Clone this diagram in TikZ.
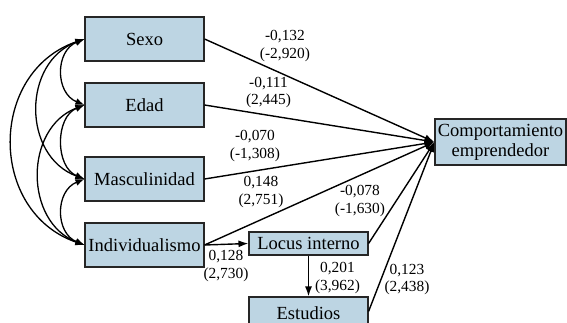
\documentclass[tikz,border=0pt]{standalone}
\usepackage{fontspec}
\setmainfont{Liberation Serif}
\usetikzlibrary{arrows.meta}
\definecolor{boxfill}{HTML}{BDD5E3}
\tikzset{
  vbox/.style={draw=black!85, line width=1.1pt, fill=boxfill, inner sep=0pt, minimum width=119pt, minimum height=44pt, font=\fontsize{18.5}{20}\selectfont},
  lbl/.style={align=center, inner sep=0pt, font=\fontsize{15.4}{17.5}\selectfont},
  pth/.style={line width=1.4pt, -{Latex[length=10pt,width=7pt]}},
  cov/.style={line width=1.3pt, {Latex[length=9pt,width=7pt]}-{Latex[length=9pt,width=7pt]}}
}
\begin{document}
\begin{tikzpicture}[x=1pt,y=-1pt]
\useasboundingbox (0,0) rectangle (567,323);
\node[vbox] (sexo) at (144.5,39) {Sexo};
\node[vbox] (edad) at (144.5,105) {Edad};
\node[vbox] (masc) at (144.5,179) {Masculinidad};
\node[vbox] (indiv) at (144.5,245) {Individualismo};
\node[vbox, minimum width=131pt, minimum height=46pt, align=center] (comp) at (500.5,142) {Comportamiento\\emprendedor};
\node[vbox, minimum height=23pt] (locus) at (308.5,243.5) {Locus interno};
\node[vbox, minimum height=38pt, text depth=5pt] (estud) at (308.5,316) {Estudios};
\coordinate (estudout) at ([yshift=-15pt]estud.north east);
% covariances
\draw[cov] (sexo.west) .. controls (55,51) and (55,93) .. (edad.west);
\draw[cov] (edad.west) .. controls (55,117) and (55,167) .. (masc.west);
\draw[cov] (masc.west) .. controls (55,191) and (55,233) .. (indiv.west);
\draw[cov] (sexo.west) .. controls (22,62) and (22,156) .. (masc.west);
\draw[cov] (edad.west) .. controls (24,128) and (24,222) .. (indiv.west);
\draw[cov] (sexo.west) .. controls (-12,72) and (-12,212) .. (indiv.west);
% paths
\draw[pth] (sexo.east) -- (comp.west);
\draw[pth] (edad.east) -- (comp.west);
\draw[pth] (masc.east) -- (comp.west);
\draw[pth] (indiv.east) -- (comp.west);
\draw[pth] (locus.east) -- (comp.west);
\draw[pth] (estudout) -- (comp.west);
\draw[pth] (indiv.east) -- (locus.west);
\draw[pth] (locus.south) -- (estud.north);
% labels
\node[lbl] (l1) at (285,46) {-0,132\\(-2,920)};
\node[lbl] (l2) at (268.5,92.5) {-0,111\\(2,445)};
\node[lbl] (l3) at (255,146) {-0,070\\(-1,308)};
\node[lbl] (l4) at (261,192) {0,148\\(2,751)};
\node[lbl] (l5) at (360,201) {-0,078\\(-1,630)};
\node[lbl] (l6) at (226,266) {0,128\\(2,730)};
\node[lbl] (l7) at (337.5,278) {0,201\\(3,962)};
\node[lbl] (l8) at (407,279.5) {0,123\\(2,438)};
\end{tikzpicture}
\end{document}
